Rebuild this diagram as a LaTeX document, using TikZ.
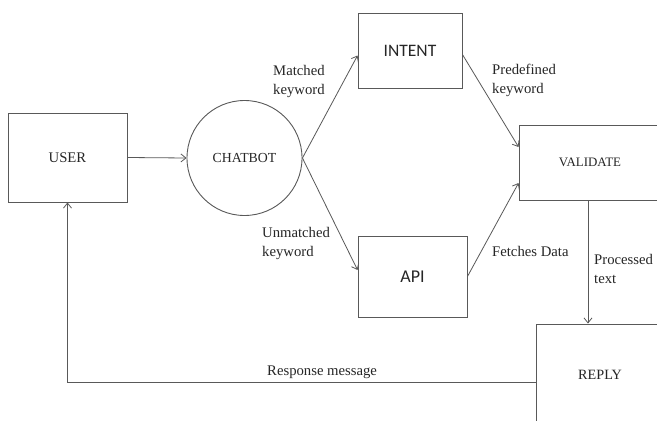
\documentclass[tikz,border=0pt]{standalone}
\usepackage{fontspec}
\setmainfont{Liberation Serif}
\newfontfamily\calib{Carlito}
\usetikzlibrary{arrows.meta}
\definecolor{linegray}{HTML}{595959}
\begin{document}
\begin{tikzpicture}[x=1pt,y=-1pt,
  box/.style={draw=linegray,line width=0.9pt,rectangle,inner sep=0pt,text=black!85},
  flow/.style={draw=linegray,line width=0.8pt,-{Straight Barb[length=5pt,width=8pt]}},
  plain/.style={draw=linegray,line width=0.8pt},
  lbl/.style={inner sep=0pt,align=left,text=black!85,font=\fontsize{14.7}{19}\selectfont}]
\useasboundingbox (0,0) rectangle (657,421);
\clip (0,0) rectangle (657,421);
\fill[white] (0,0) rectangle (657,421);

\node[box,minimum width=119pt,minimum height=89pt,font=\fontsize{14.7}{17}\selectfont] (user) at (67.5,157.5) {USER};
\node[box,circle,minimum size=115pt,font=\fontsize{13.8}{16}\selectfont] (chat) at (244.5,158) {CHATBOT};
\node[box,minimum width=104pt,minimum height=75pt,font=\calib\fontsize{17.5}{20}\selectfont] (intent) at (410,50.5) {INTENT};
\node[box,minimum width=109pt,minimum height=81pt,font=\calib\fontsize{18}{20}\selectfont] (api) at (412.5,276.5) {API};
\node[box,minimum width=142pt,minimum height=75pt,font=\fontsize{12.9}{15}\selectfont] (validate) at (590,162.5) {VALIDATE};
\node[box,minimum width=128pt,minimum height=102pt,font=\fontsize{14.2}{17}\selectfont] (reply) at (600,375) {REPLY};

\draw[flow] (user.east) -- (chat.west);
\draw[flow] (chat.east) -- ([yshift=-5pt]intent.west);
\draw[flow] (chat.east) -- ([yshift=6.5pt]api.west);
\draw[flow] ([yshift=-4pt]intent.east) -- ([yshift=15.5pt]validate.west);
\draw[flow] (api.east) -- ([yshift=-20.5pt]validate.west);
\draw[flow] ([xshift=-2pt]validate.south) -- ([xshift=-2pt]validate.south |- reply.north);
\draw[flow] ([yshift=-7pt]reply.west) -| (user.south);

\node[lbl,anchor=north west] (lmatched) at (273,65) {Matched\\keyword};
\node[lbl,anchor=north west] (lpredef) at (492,64) {Predefined\\keyword};
\node[lbl,anchor=north west] (lunmatched) at (262,227) {Unmatched\\keyword};
\node[lbl,anchor=base west] (lfetch) at (492,256) {Fetches Data};
\node[lbl,anchor=north west] (lproc) at (594,254) {Processed\\text};
\node[lbl,anchor=base west] (lresp) at (267,375) {Response message};
\end{tikzpicture}
\end{document}
